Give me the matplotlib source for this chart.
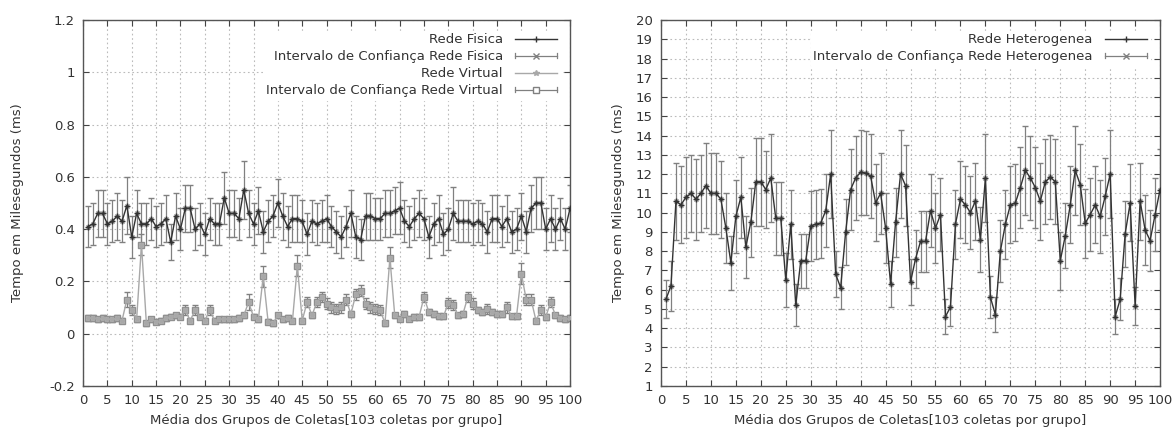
import matplotlib
matplotlib.use("Agg")
import matplotlib.pyplot as plt
from matplotlib.lines import Line2D
from matplotlib.legend_handler import HandlerBase

plt.rcParams['font.family'] = ['DejaVu Sans']

groups = list(range(1, 101))

rede_fisica = [0.41, 0.42, 0.46, 0.46, 0.42, 0.43, 0.45, 0.43, 0.49, 0.37,
               0.46, 0.42, 0.42, 0.44, 0.41, 0.42, 0.44, 0.35, 0.45, 0.40,
               0.48, 0.48, 0.40, 0.42, 0.38, 0.44, 0.42, 0.42, 0.52, 0.46,
               0.46, 0.44, 0.55, 0.46, 0.42, 0.47, 0.39, 0.43, 0.45, 0.50,
               0.45, 0.41, 0.44, 0.44, 0.43, 0.38, 0.43, 0.42, 0.43, 0.44,
               0.41, 0.39, 0.37, 0.41, 0.46, 0.37, 0.36, 0.45, 0.45, 0.44,
               0.44, 0.46, 0.46, 0.47, 0.48, 0.43, 0.41, 0.44, 0.46, 0.44,
               0.37, 0.42, 0.44, 0.38, 0.40, 0.46, 0.43, 0.43, 0.43, 0.42,
               0.43, 0.42, 0.39, 0.44, 0.44, 0.41, 0.44, 0.39, 0.40, 0.45,
               0.39, 0.48, 0.50, 0.50, 0.40, 0.44, 0.40, 0.44, 0.40, 0.48]
erro_fisica = [0.08, 0.08, 0.09, 0.09, 0.08, 0.08, 0.09, 0.08, 0.11, 0.08,
               0.09, 0.08, 0.08, 0.08, 0.08, 0.08, 0.09, 0.07, 0.09, 0.08,
               0.09, 0.09, 0.08, 0.08, 0.08, 0.08, 0.08, 0.08, 0.10, 0.09,
               0.09, 0.08, 0.11, 0.09, 0.08, 0.09, 0.08, 0.08, 0.08, 0.09,
               0.09, 0.08, 0.09, 0.09, 0.08, 0.08, 0.08, 0.08, 0.08, 0.09,
               0.08, 0.08, 0.08, 0.08, 0.09, 0.08, 0.08, 0.09, 0.09, 0.08,
               0.08, 0.09, 0.09, 0.09, 0.10, 0.08, 0.08, 0.08, 0.09, 0.08,
               0.08, 0.08, 0.09, 0.08, 0.08, 0.10, 0.08, 0.08, 0.08, 0.08,
               0.08, 0.08, 0.08, 0.09, 0.09, 0.08, 0.09, 0.08, 0.08, 0.09,
               0.08, 0.09, 0.10, 0.10, 0.08, 0.09, 0.08, 0.08, 0.08, 0.09]

rede_virtual = [0.06, 0.06, 0.055, 0.06, 0.055, 0.055, 0.06, 0.05, 0.13, 0.09,
                0.055, 0.34, 0.04, 0.055, 0.045, 0.05, 0.06, 0.065, 0.07, 0.065,
                0.09, 0.05, 0.09, 0.065, 0.05, 0.09, 0.05, 0.055, 0.055, 0.055,
                0.055, 0.06, 0.07, 0.12, 0.065, 0.055, 0.22, 0.045, 0.04, 0.07,
                0.055, 0.06, 0.05, 0.26, 0.05, 0.12, 0.07, 0.12, 0.14, 0.115,
                0.10, 0.095, 0.10, 0.13, 0.075, 0.15, 0.165, 0.115, 0.10, 0.095,
                0.09, 0.04, 0.29, 0.07, 0.057, 0.075, 0.057, 0.064, 0.064, 0.14,
                0.083, 0.075, 0.066, 0.066, 0.117, 0.11, 0.07, 0.075, 0.14, 0.115,
                0.09, 0.083, 0.095, 0.083, 0.075, 0.075, 0.10, 0.066, 0.066, 0.23,
                0.13, 0.13, 0.05, 0.09, 0.064, 0.12, 0.07, 0.06, 0.055, 0.06]
erro_virtual = [0.01, 0.01, 0.01, 0.01, 0.01, 0.01, 0.01, 0.01, 0.03, 0.02,
                0.01, 0.04, 0.01, 0.01, 0.01, 0.01, 0.01, 0.01, 0.01, 0.01,
                0.02, 0.01, 0.02, 0.01, 0.01, 0.02, 0.01, 0.01, 0.01, 0.01,
                0.01, 0.01, 0.01, 0.03, 0.01, 0.01, 0.04, 0.01, 0.01, 0.01,
                0.01, 0.01, 0.01, 0.04, 0.01, 0.02, 0.01, 0.02, 0.02, 0.02,
                0.02, 0.02, 0.02, 0.02, 0.01, 0.02, 0.02, 0.02, 0.02, 0.02,
                0.02, 0.01, 0.04, 0.01, 0.01, 0.01, 0.01, 0.01, 0.01, 0.02,
                0.01, 0.01, 0.01, 0.01, 0.02, 0.02, 0.01, 0.01, 0.02, 0.02,
                0.01, 0.01, 0.02, 0.01, 0.01, 0.01, 0.02, 0.01, 0.01, 0.04,
                0.02, 0.02, 0.01, 0.02, 0.01, 0.02, 0.01, 0.01, 0.01, 0.01]

rede_hetero = [5.5, 6.2, 10.6, 10.4, 10.8, 11.0, 10.7, 11.0, 11.4, 11.0,
               11.0, 10.7, 9.2, 7.4, 9.8, 10.8, 8.2, 9.5, 11.6, 11.6,
               11.2, 11.8, 9.7, 9.7, 6.5, 9.4, 5.2, 7.5, 7.5, 9.3,
               9.4, 9.45, 10.1, 12.0, 6.8, 6.1, 9.0, 11.2, 11.8, 12.1,
               12.05, 11.9, 10.5, 11.0, 9.2, 6.3, 9.5, 12.0, 11.4, 6.4,
               7.6, 8.5, 8.5, 10.1, 9.2, 9.9, 4.6, 5.1, 9.4, 10.7,
               10.4, 10.0, 10.6, 8.6, 11.8, 5.6, 4.7, 8.0, 9.4, 10.4,
               10.5, 11.3, 12.2, 11.8, 11.3, 10.6, 11.6, 11.85, 11.6, 7.5,
               8.8, 10.4, 12.2, 11.45, 9.45, 9.9, 10.4, 9.8, 10.85, 12.0,
               4.6, 5.5, 8.9, 10.5, 5.15, 10.6, 9.1, 8.55, 9.9, 11.2]
erro_hetero = [1.0, 1.3, 2.0, 2.0, 2.1, 2.0, 2.1, 2.0, 2.2, 2.1,
               2.1, 2.0, 1.8, 1.4, 1.9, 2.1, 1.6, 1.8, 2.3, 2.3,
               2.0, 2.3, 1.9, 1.9, 1.4, 1.8, 1.1, 1.4, 1.4, 1.8,
               1.8, 1.8, 1.9, 2.3, 1.2, 1.1, 1.7, 2.1, 2.2, 2.2,
               2.2, 2.2, 2.0, 2.1, 1.8, 1.2, 1.8, 2.3, 2.1, 1.2,
               1.5, 1.6, 1.6, 1.9, 1.8, 1.9, 0.9, 1.0, 1.8, 2.0,
               2.0, 1.9, 2.0, 1.7, 2.3, 1.1, 0.9, 1.6, 1.8, 2.0,
               2.0, 2.1, 2.3, 2.2, 2.1, 2.0, 2.2, 2.2, 2.2, 1.5,
               1.7, 2.0, 2.3, 2.1, 1.8, 1.9, 2.0, 1.9, 2.0, 2.3,
               0.9, 1.1, 1.7, 2.0, 1.0, 2.0, 1.8, 1.6, 1.9, 2.1]

x_ticks = list(range(0, 101, 5))
left_yticks = [-0.2, 0, 0.2, 0.4, 0.6, 0.8, 1.0, 1.2]
left_ylabels = ["-0.2", "0", "0.2", "0.4", "0.6", "0.8", "1", "1.2"]
right_yticks = list(range(1, 21))

xlabel = "Média dos Grupos de Coletas[103 coletas por grupo]"
ylabel = "Tempo em Milesegundos (ms)"

lbl_fis = "Rede Fisica"
lbl_fis_ic = "Intervalo de Confiança Rede Fisica"
lbl_vir = "Rede Virtual"
lbl_vir_ic = "Intervalo de Confiança Rede Virtual"
lbl_het = "Rede Heterogenea"
lbl_het_ic = "Intervalo de Confiança Rede Heterogenea"

FS = 9.5

fig = plt.figure(figsize=(11.73, 4.37), dpi=100)
ax1 = fig.add_axes([0.0708, 0.117, 0.4152, 0.837])
ax2 = fig.add_axes([0.5635, 0.117, 0.4255, 0.837])

dark = '#333333'
mid = '#808080'
light = '#a8a8a8'


class ErrKey:
    def __init__(self, color, marker, mfc='none', mec=None):
        self.color = color
        self.marker = marker
        self.mfc = mfc
        self.mec = mec or color


class HandlerErrKey(HandlerBase):
    def create_artists(self, legend, orig, xdescent, ydescent, width, height,
                       fontsize, trans):
        y = height / 2 - ydescent
        x0, x1 = -xdescent, width - xdescent
        line = Line2D([x0, x1], [y, y], color=orig.color, lw=0.9, transform=trans)
        c = height * 0.3
        cap1 = Line2D([x0, x0], [y - c, y + c], color=orig.color, lw=0.9, transform=trans)
        cap2 = Line2D([x1, x1], [y - c, y + c], color=orig.color, lw=0.9, transform=trans)
        mk = Line2D([(x0 + x1) / 2], [y], marker=orig.marker, color=orig.color,
                    mfc=orig.mfc, mec=orig.mec, markersize=4, ls='none', transform=trans)
        return [line, cap1, cap2, mk]


def style(ax, ylabelpad):
    ax.set_xlim(0, 100)
    ax.set_xticks(x_ticks)
    ax.grid(True, linestyle=(0, (1.5, 2.5)), color='#bbbbbb', linewidth=0.8)
    ax.set_axisbelow(True)
    ax.tick_params(direction='in', top=True, right=True, length=4,
                   labelsize=FS, colors='#444444', labelcolor='#333333', pad=6)
    for s in ax.spines.values():
        s.set_color('#555555')
        s.set_linewidth(1.0)
    ax.set_xlabel(xlabel, fontsize=FS, color='#333333', labelpad=5)
    ax.set_ylabel(ylabel, fontsize=FS, color='#333333', labelpad=ylabelpad)


leg_kw = dict(loc='upper right', markerfirst=False, frameon=True, fancybox=False,
              edgecolor='white', framealpha=1, fontsize=FS, labelspacing=0.3,
              handlelength=3.2, borderaxespad=0.8, borderpad=0.2, handletextpad=0.9,
              handler_map={ErrKey: HandlerErrKey()})

# left chart
ax1.errorbar(groups, rede_fisica, yerr=erro_fisica, fmt='x', color=mid, ecolor=mid,
             elinewidth=0.9, capsize=2, markersize=3, zorder=2)
ax1.plot(groups, rede_fisica, '-', marker='+', color=dark, linewidth=1.0,
         markersize=4, zorder=3)
ax1.errorbar(groups, rede_virtual, yerr=erro_virtual, fmt='s', color=mid, ecolor=mid,
             mfc='#b8b8b8', mec='#909090', elinewidth=0.9, capsize=2, markersize=4,
             zorder=2)
ax1.plot(groups, rede_virtual, '-', marker='*', color=light, linewidth=1.0,
         markersize=3, zorder=3)
ax1.set_ylim(-0.2, 1.2)
ax1.set_yticks(left_yticks)
ax1.set_yticklabels(left_ylabels)
style(ax1, 18)
handles1 = [Line2D([], [], color=dark, lw=1.0, marker='+', markersize=5),
            ErrKey(mid, 'x'),
            Line2D([], [], color=light, lw=1.0, marker='*', markersize=4),
            ErrKey(mid, 's', mfc='white', mec=mid)]
leg1 = ax1.legend(handles1, [lbl_fis, lbl_fis_ic, lbl_vir, lbl_vir_ic], **leg_kw)
for t in leg1.get_texts():
    t.set_color('#333333')

# right chart
ax2.errorbar(groups, rede_hetero, yerr=erro_hetero, fmt='x', color=mid, ecolor=mid,
             elinewidth=0.9, capsize=2, markersize=3, zorder=2)
ax2.plot(groups, rede_hetero, '-', marker='+', color=dark, linewidth=1.0,
         markersize=4, zorder=3)
ax2.set_ylim(1, 20)
ax2.set_yticks(right_yticks)
style(ax2, 8)
handles2 = [Line2D([], [], color=dark, lw=1.0, marker='+', markersize=5),
            ErrKey(mid, 'x')]
leg2 = ax2.legend(handles2, [lbl_het, lbl_het_ic], **leg_kw)
for t in leg2.get_texts():
    t.set_color('#333333')

fig.savefig('out.png', dpi=100, facecolor='white')
